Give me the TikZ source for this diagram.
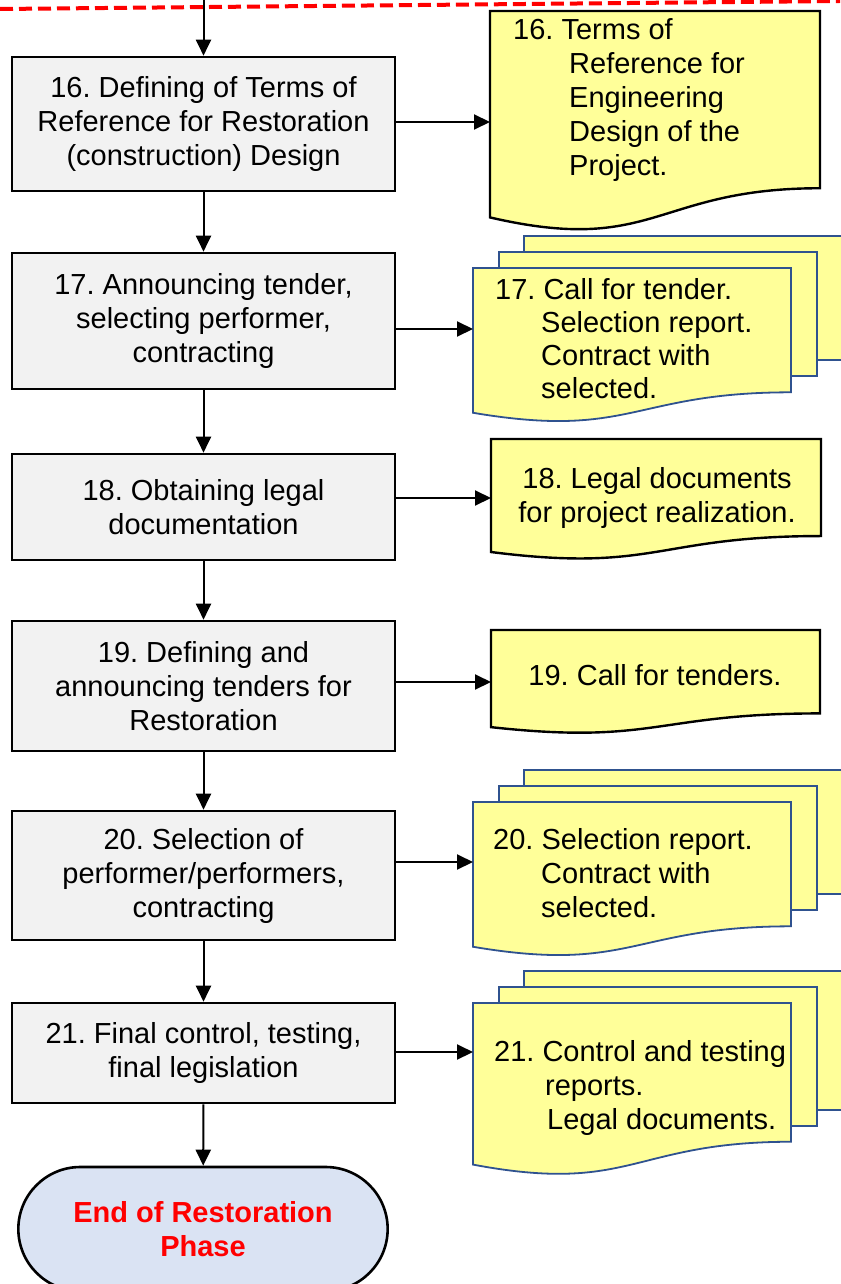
\documentclass[tikz,border=0pt]{standalone}
\usepackage{fontspec}
\setmainfont{Liberation Sans}
\usetikzlibrary{arrows.meta,shapes.misc,calc}
\definecolor{procfill}{HTML}{F2F2F2}
\definecolor{docfill}{HTML}{FFFF99}
\definecolor{termfill}{HTML}{DAE3F3}
\definecolor{docblue}{HTML}{2F528F}
\definecolor{dashred}{HTML}{FF0000}
\definecolor{termred}{HTML}{FF0000}
\frenchspacing

\tikzset{
  proc/.style={draw=black, fill=procfill, line width=2.6pt, minimum width=383pt, inner sep=2pt, align=center, font=\fontsize{29}{34}\selectfont},
  sdoc/.style={draw=black, fill=docfill, line width=2.4pt},
  mdoc/.style={draw=docblue, fill=docfill, line width=1.8pt},
  doctext/.style={inner sep=0pt, font=\fontsize{29}{34}\selectfont},
  arr/.style={line width=2pt, -{Triangle[length=16pt,width=15pt]}},
  term/.style={rounded rectangle, draw=black, fill=termfill, line width=2.6pt, minimum width=376pt, minimum height=124pt, align=center, text=termred, font=\fontsize{29}{34}\selectfont\bfseries},
}

% x y w h style name
\newcommand\docshape[6]{%
  \draw[#5] (#1,#2) -- ({#1+#3},#2) -- ({#1+#3},{#2+0.802*#4})
    .. controls ({#1+0.5*#3},{#2+0.802*#4}) and ({#1+0.5*#3},{#2+1.1075*#4}) .. (#1,{#2+0.934*#4}) -- cycle;
  \node[inner sep=0pt, minimum width=#3pt, minimum height=0.802*#4pt, anchor=north west] (#6) at (#1,#2) {};
}
% x y w h name
\newcommand\multidoc[5]{%
  \draw[mdoc] ({#1+51},{#2-32}) rectangle ({#1+51+#3},{#2-32+0.802*#4});
  \draw[mdoc] ({#1+26},{#2-16}) rectangle ({#1+26+#3},{#2-16+0.802*#4});
  \docshape{#1}{#2}{#3}{#4}{mdoc}{#5}
}

\begin{document}
\begin{tikzpicture}[x=1pt,y=-1pt]
\useasboundingbox (0,0) rectangle (840,1284);

% dashed boundary line
\coordinate (dl) at (0,9);
\coordinate (dr) at (840,1);
\draw[dashred, line width=4pt, dash pattern=on 13pt off 6pt] (dl) -- (dr);

% process boxes
\node[proc, minimum height=134pt] (b16) at (203.5,124) {16. Defining of Terms of\\Reference for Restoration\\(construction) Design};
\node[proc, minimum height=136pt] (b17) at (203.5,321) {17. Announcing tender,\\selecting performer,\\contracting};
\node[proc, minimum height=106pt] (b18) at (203.5,507) {18. Obtaining legal\\documentation};
\node[proc, minimum height=130pt] (b19) at (203.5,686) {19. Defining and\\announcing tenders for\\Restoration};
\node[proc, minimum height=129pt] (b20) at (203.5,875.5) {20. Selection of\\performer/performers,\\contracting};
\node[proc, minimum height=100pt] (b21) at (203.5,1053) {21. Final control, testing,\\final legislation};
\node[term] (end) at (203,1229) {End of Restoration\\Phase};

% documents
\docshape{490}{11}{330}{221}{sdoc}{d16}
\node[doctext, anchor=west, align=left] (t16) at (513,100) {16. Terms of\\\hspace*{56pt}Reference for\\\hspace*{56pt}Engineering\\\hspace*{56pt}Design of the\\\hspace*{56pt}Project.};

\multidoc{473}{268}{318}{155}{d17}
\node[doctext, anchor=west, align=left, font=\fontsize{29}{33}\selectfont] (t17) at (495,338.5) {17. Call for tender.\\\hspace*{46pt}Selection report.\\\hspace*{46pt}Contract with\\\hspace*{46pt}selected.};

\docshape{491}{439}{330}{121}{sdoc}{d18}
\node[doctext, align=center] (t18) at (657,497.5) {18. Legal documents\\for project realization.};

\docshape{491}{630}{329}{104}{sdoc}{d19}
\node[doctext] (t19) at (655,675) {19. Call for tenders.};

\multidoc{473}{802}{318}{155}{d20}
\node[doctext, anchor=west, align=left] (t20) at (493,873) {20. Selection report.\\\hspace*{48pt}Contract with\\\hspace*{48pt}selected.};

\multidoc{473}{1003}{318}{173}{d21}
\node[doctext, anchor=west, align=left] (t21) at (494,1087.5) {21. Control and testing\\\hspace*{51pt}reports.\\\hspace*{53pt}Legal documents.};

% vertical flow
\coordinate (topin) at (203.5,0);
\draw[arr] (topin) -- (b16.north);
\draw[arr] (b16) -- (b17);
\draw[arr] (b17) -- (b18);
\draw[arr] (b18) -- (b19);
\draw[arr] (b19) -- (b20);
\draw[arr] (b20) -- (b21);
\draw[arr] (b21) -- (end);

% outputs
\draw[arr] ($(b16.east)+(0,-2)$) coordinate (o16) -- (o16 -| d16.west);
\draw[arr] ($(b17.east)+(0,8)$) coordinate (o17) -- (o17 -| d17.west);
\draw[arr] ($(b18.east)+(0,-9)$) coordinate (o18) -- (o18 -| d18.west);
\draw[arr] ($(b19.east)+(0,-4)$) coordinate (o19) -- (o19 -| d19.west);
\draw[arr] ($(b20.east)+(0,-13.5)$) coordinate (o20) -- (o20 -| d20.west);
\draw[arr] ($(b21.east)+(0,-1)$) coordinate (o21) -- (o21 -| d21.west);
\end{tikzpicture}
\end{document}
